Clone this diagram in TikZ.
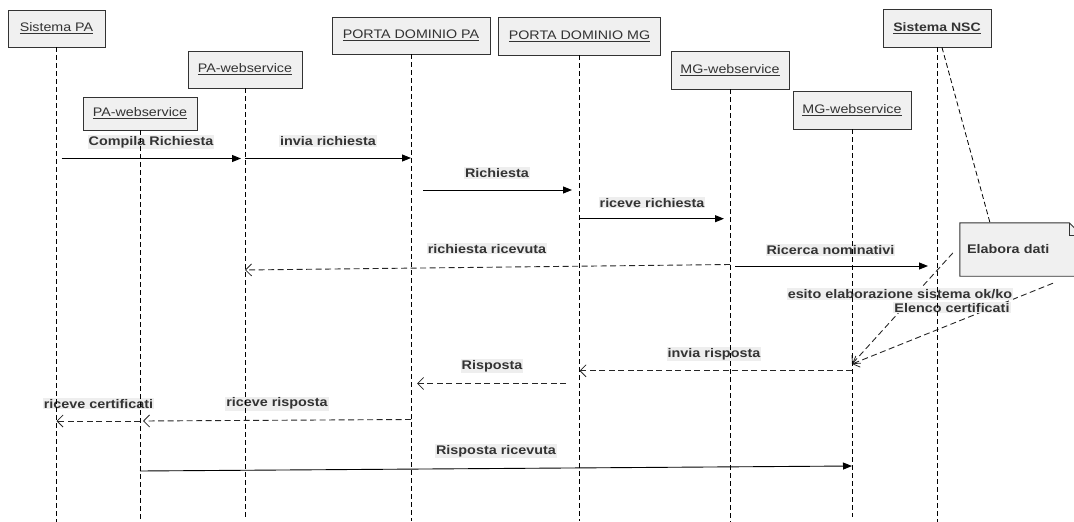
\documentclass[tikz,border=0pt]{standalone}
\usepackage{fontspec}
\setmainfont{Liberation Sans}[FakeStretch=1.15]
\usetikzlibrary{arrows.meta,calc,backgrounds}
\definecolor{boxfill}{HTML}{F0F0F0}
\definecolor{ink}{HTML}{333333}
\definecolor{labelbg}{HTML}{EEEEEE}

\begin{document}
\begin{tikzpicture}[x=1pt,y=-1pt,
  actor/.style={draw=ink, fill=boxfill, line width=0.9pt, inner sep=0pt,
    minimum height=37pt, text=ink, font=\fontsize{12.4}{14}\selectfont},
  msglabel/.style={fill=labelbg, inner sep=1pt, text=ink,
    font=\fontsize{12.5}{14}\selectfont\bfseries},
  lifeline/.style={draw=black, line width=0.8pt, dash pattern=on 5pt off 3pt},
  call/.style={draw=black, line width=0.9pt, -{Triangle[length=9pt,width=7pt]}},
  reply/.style={draw=black!85, line width=0.9pt, dash pattern=on 6pt off 3.5pt,
    -{Straight Barb[length=6pt,width=12pt,line width=0.8pt]}},
  ]
\useasboundingbox (0,0) rectangle (1074,522);

% participants
\node[actor, minimum width=97pt] (spa) at (56.5,28.5) {\underline{Sistema PA}};
\node[actor, minimum width=114pt] (paw1) at (245,69.5) {\underline{PA-webservice}};
\node[actor, minimum width=114pt, minimum height=33pt] (paw2) at (140,113.5) {\underline{PA-webservice}};
\node[actor, minimum width=158pt] (pdpa) at (411,35.5) {\underline{PORTA DOMINIO PA}};
\node[actor, minimum width=162pt, minimum height=38pt] (pdmg) at (579.5,36) {\underline{PORTA DOMINIO MG}};
\node[actor, minimum width=118pt, minimum height=38pt] (mgw1) at (730,70) {\underline{MG-webservice}};
\node[actor, minimum width=118pt, minimum height=38pt] (mgw2) at (852,110) {\underline{MG-webservice}};
\node[actor, minimum width=108pt, minimum height=38pt,
  font=\fontsize{12.2}{14}\selectfont\bfseries] (nsc) at (937,28) {\underline{Sistema NSC}};

% note with folded corner
\node[msglabel, fill=none, inner sep=0pt, minimum width=122pt, minimum height=53pt,
  text width=108pt, align=left] (note) at (1021,249.5) {Elabora dati};
\begin{scope}[on background layer]
  \filldraw[draw=ink, fill=boxfill, line width=0.9pt]
    (note.north west) -- ($(note.north east)+(-13,0)$) -- ($(note.north east)+(0,13)$)
    -- (note.south east) -- (note.south west) -- cycle;
  \draw[ink, line width=0.9pt] ($(note.north east)+(-13,0)$) -- ($(note.north east)+(-13,13)$)
    -- ($(note.north east)+(0,13)$);
\end{scope}

% note links (behind the labels)
\draw[reply] ($(note.west)+(-7,3.5)$) -- (mgw2 |- 0,364);
\draw[reply] ($(note.south)+(32,7)$) -- (mgw2 |- 0,364);
\draw[lifeline] ($(nsc.south)+(5,0)$) -- ($(note.north)+(-31,0)$);

% message labels
\node[msglabel] (l1) at (151,142) {Compila Richiesta};
\node[msglabel] (l2) at (328,141) {invia richiesta};
\node[msglabel] (l3) at (497,173) {Richiesta};
\node[msglabel] (l4) at (652,202.7) {riceve richiesta};
\node[msglabel] (l5) at (487,248.7) {richiesta ricevuta};
\node[msglabel] (l6) at (830.5,250) {Ricerca nominativi};
\node[msglabel] (l7) at (900,294) {esito elaborazione sistema ok/ko};
\node[msglabel] (l8) at (952,307.7) {Elenco certificati};
\node[msglabel] (l9) at (714,354) {invia risposta};
\node[msglabel] (l10) at (492,366) {Risposta};
\node[msglabel] (l11) at (277,403.7) {riceve risposta};
\node[msglabel] (l12) at (98.5,403.7) {riceve certificati};
\node[msglabel] (l13) at (496,451) {Risposta ricevuta};

% lifelines
\foreach \p/\e in {spa/522, paw2/522, paw1/520, pdpa/521, pdmg/521, mgw1/522, mgw2/517, nsc/522}
  \draw[lifeline] (\p.south) -- (\p.south |- 0,\e);

% messages
\draw[call] ($(spa |- 0,158.5)+(5,0)$) -- ($(paw1 |- 0,158.5)+(-4,0)$);
\draw[call] (paw1 |- 0,158) -- (pdpa |- 0,158);
\draw[call] ($(pdpa |- 0,190)+(12,0)$) -- ($(pdmg |- 0,190)+(-7.5,0)$);
\draw[call] (pdmg |- 0,218.7) -- ($(mgw1 |- 0,218.7)+(-6,0)$);
\draw[reply] (mgw1 |- 0,264.5) -- (paw1 |- 0,270);
\draw[call] ($(mgw1 |- 0,266)+(5,0)$) -- ($(nsc |- 0,266)+(-9,0)$);
\draw[reply] (mgw2 |- 0,370.8) -- (pdmg |- 0,370.8);
\draw[reply] ($(pdmg |- 0,383.5)+(-13.5,0)$) -- ($(pdpa |- 0,383.5)+(6,0)$);
\draw[reply] (pdpa |- 0,419.5) -- ($(paw2 |- 0,421)+(3,0)$);
\draw[reply] (paw2 |- 0,421) -- (spa |- 0,421);
\draw[call] (paw2 |- 0,471) -- (mgw2 |- 0,466);
\end{tikzpicture}
\end{document}
